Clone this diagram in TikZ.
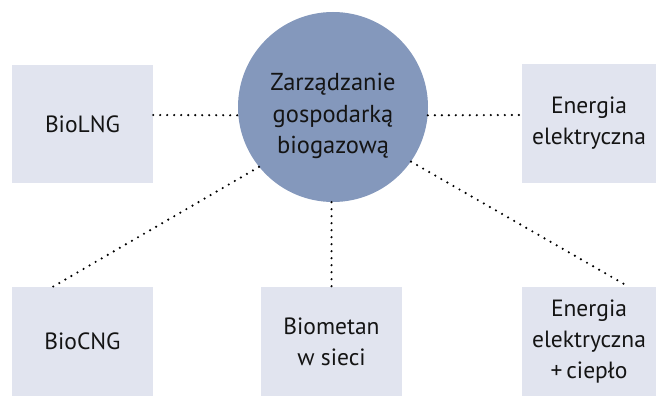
\documentclass[tikz,border=0pt]{standalone}
\usepackage{fontspec}
\setmainfont{PT Sans}
\usetikzlibrary{calc}
\definecolor{boxfill}{HTML}{E1E4EF}
\definecolor{circfill}{HTML}{8498BC}
\definecolor{txt}{HTML}{141414}
\begin{document}
\begin{tikzpicture}[x=1pt,y=-1pt,
  every node/.style={text=txt,font=\fontsize{23.5}{31}\selectfont,align=center,inner sep=0pt},
  outbox/.style={fill=boxfill,draw=none,minimum width=141pt,minimum height=118pt},
  hub/.style={circle,fill=circfill,draw=none,minimum size=190pt},
  link/.style={line width=2.4pt,line cap=round,dash pattern=on 0pt off 7pt}]
\useasboundingbox (0,0) rectangle (656,396);
\node[outbox] (lng) at (82.5,124) {BioLNG};
\node[outbox,minimum width=134pt,minimum height=119pt] (ee) at (589,123.5) {Energia\\elektryczna};
\node[outbox,minimum height=109pt] (cng) at (82.5,341.5) {BioCNG};
\node[outbox,minimum height=109pt] (bm) at (331.5,341.5) {Biometan\\w sieci};
\node[outbox,minimum width=134pt,minimum height=109pt] (eec) at (589,341.5) {Energia\\elektryczna\\+\,ciepło};
\node[hub] (c) at (333,107) {};
\node[font=\fontsize{24.5}{31.5}\selectfont] (ct) at (333,116) {Zarządzanie\\gospodarką\\biogazową};
\draw[link] (lng.east |- 0,115) -- (c.185);
\draw[link] (c.355) -- (ee.west |- 0,115);
\draw[link] (c.219) -- ([xshift=41pt]cng.north west);
\draw[link] (c.325) -- ([xshift=107pt]eec.north west);
\draw[link] (c.south -| bm.north) -- (bm.north);
\end{tikzpicture}
\end{document}
